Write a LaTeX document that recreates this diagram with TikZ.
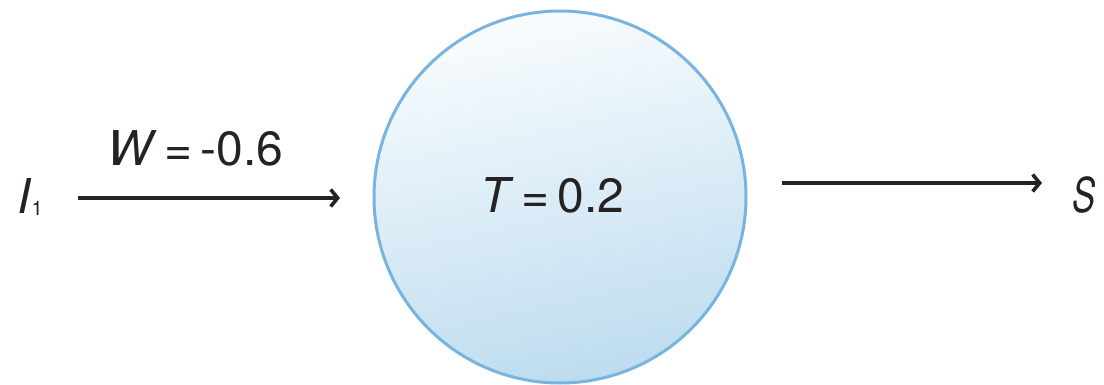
\documentclass[tikz,border=0pt]{standalone}
\usepackage{fontspec}
\setmainfont{TeX Gyre Heros}
\usetikzlibrary{arrows.meta}
\definecolor{rim}{HTML}{78B4E0}
\definecolor{fillbot}{HTML}{BDDCEF}
\definecolor{filltop}{HTML}{F9FCFE}
\definecolor{ink}{HTML}{262223}
\tikzset{
  lbl/.style={inner sep=0pt, anchor=base west, text=ink, font=\fontsize{48}{58}\selectfont},
  conn/.style={draw=ink, line width=3.6pt, -{Straight Barb[length=7pt,width=17pt]}}
}
\begin{document}
\begin{tikzpicture}[x=1pt,y=1pt]
\useasboundingbox (0,0) rectangle (1104,384);
\shade[shading=axis, top color=filltop, bottom color=fillbot, shading angle=12] (560,187) circle (186);
\node[circle, draw=rim, line width=3pt, minimum size=372pt, inner sep=0pt] (neuron) at (560,187) {};
\node[lbl] (t) at (480,172) {\textit{T}\,=\,0.2};
\node[lbl] (in) at (17,171) {\textit{I}\raisebox{-2pt}{\fontsize{20}{24}\selectfont 1}};
\node[lbl] (w) at (107,219) {\textit{W}\,=\,-0.6};
\node[lbl] (s) at (1072,172) {\scalebox{0.72}[1]{\textit{S}}};
\coordinate (a1) at (78,186);
\coordinate (a2) at (340,186);
\coordinate (b1) at (782,201);
\coordinate (b2) at (1042,201);
\draw[conn] (a1) -- (a2);
\draw[conn] (b1) -- (b2);
\end{tikzpicture}
\end{document}
